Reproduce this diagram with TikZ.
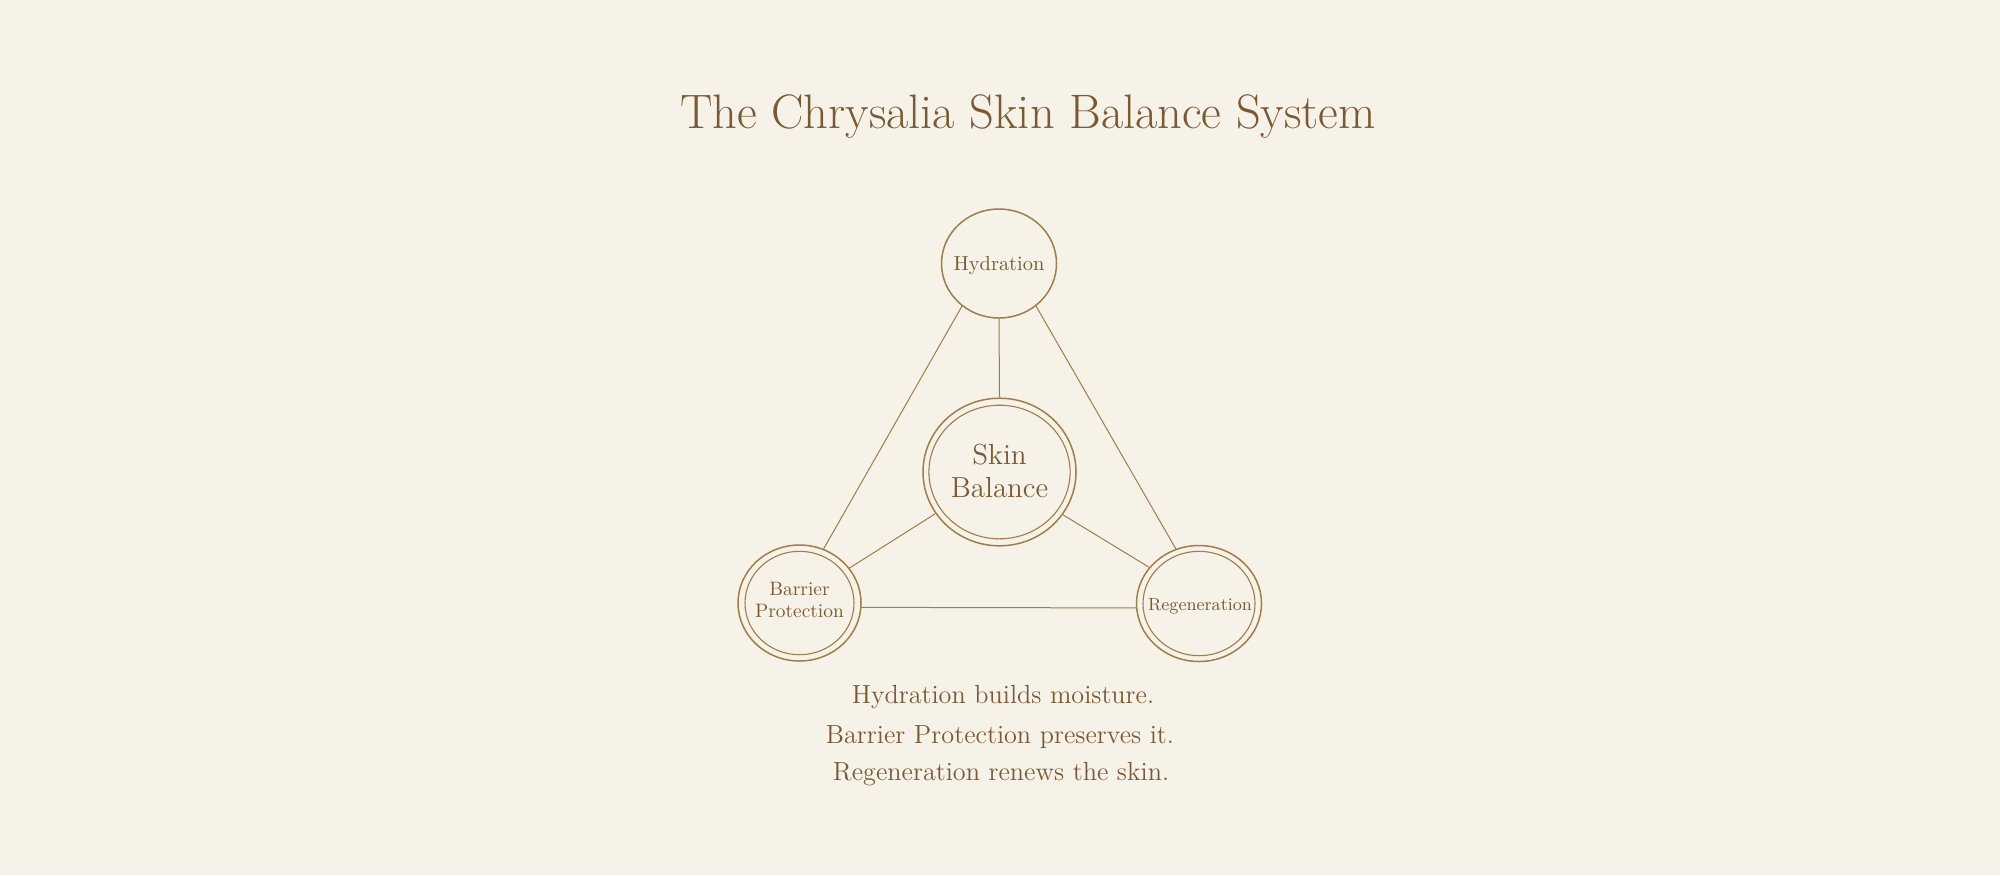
\documentclass[tikz,border=0pt]{standalone}
\usetikzlibrary{shapes.geometric}
\definecolor{bgc}{HTML}{F6F2E8}
\definecolor{txt}{HTML}{7A5A36}
\definecolor{lnc}{HTML}{9E7D4E}
\tikzset{
  txtlbl/.style={text=txt, inner sep=0pt, anchor=base},
  ring/.style={draw=lnc, ellipse, line width=0.75pt, inner sep=0pt},
  innerring/.style={draw=lnc, line width=0.55pt},
  link/.style={draw=lnc, line width=0.5pt}
}
\begin{document}
\begin{tikzpicture}[x=0.5pt, y=-0.5pt]
\path[fill=bgc] (0,0) rectangle (2000,875);
\useasboundingbox (0,0) rectangle (2000,875);

% title
\node[txtlbl, font=\fontsize{24.2}{28}\selectfont] (title) at (1028,128) {The Chrysalia Skin Balance System};

% circles
\node[ring, minimum width=57.5pt, minimum height=54.5pt] (h) at (999,263.5) {};
\node[ring, minimum width=76.5pt, minimum height=73.8pt] (s) at (999.5,472) {};
\node[ring, minimum width=61.5pt, minimum height=58pt] (b) at (799.5,603) {};
\node[ring, minimum width=62.5pt, minimum height=58pt] (r) at (1199,603.5) {};

\draw[innerring] (s.center) ellipse [x radius=70.6, y radius=66.8];
\draw[innerring] (b.center) ellipse [x radius=54.5, y radius=51.7];
\draw[innerring] (r.center) ellipse [x radius=56, y radius=52.2];

% connectors
\draw[link] (h.south) -- (s.north);
\draw[link] (h.229) -- (b.66.5);
\draw[link] (h.311) -- (r.113.3);
\draw[link] (s.213.3) -- (b.35.3);
\draw[link] (s.326.7) -- (r.144.7);
\draw[link] (b.-4.7) -- (r.184.8);

% circle labels
\node[txtlbl, font=\fontsize{10.2}{12}\selectfont] (hl) at (999,270) {Hydration};
\node[txtlbl, font=\fontsize{14.5}{17}\selectfont] (sl1) at (999.5,464.3) {Skin};
\node[txtlbl, font=\fontsize{14.5}{17}\selectfont] (sl2) at (999.5,497.3) {Balance};
\node[txtlbl, font=\fontsize{9.7}{11}\selectfont] (bl1) at (799.5,595) {Barrier};
\node[txtlbl, font=\fontsize{9.7}{11}\selectfont] (bl2) at (799.5,617.3) {Protection};
\node[txtlbl, font=\fontsize{8.8}{11}\selectfont] (rl) at (1200,610) {Regeneration};

% bottom text
\node[txtlbl, font=\fontsize{13.1}{15}\selectfont] (c1) at (1003,703.3) {Hydration builds moisture.};
\node[txtlbl, font=\fontsize{13.1}{15}\selectfont] (c2) at (1000,743.3) {Barrier Protection preserves it.};
\node[txtlbl, font=\fontsize{13.1}{15}\selectfont] (c3) at (1001,780) {Regeneration renews the skin.};
\end{tikzpicture}
\end{document}
